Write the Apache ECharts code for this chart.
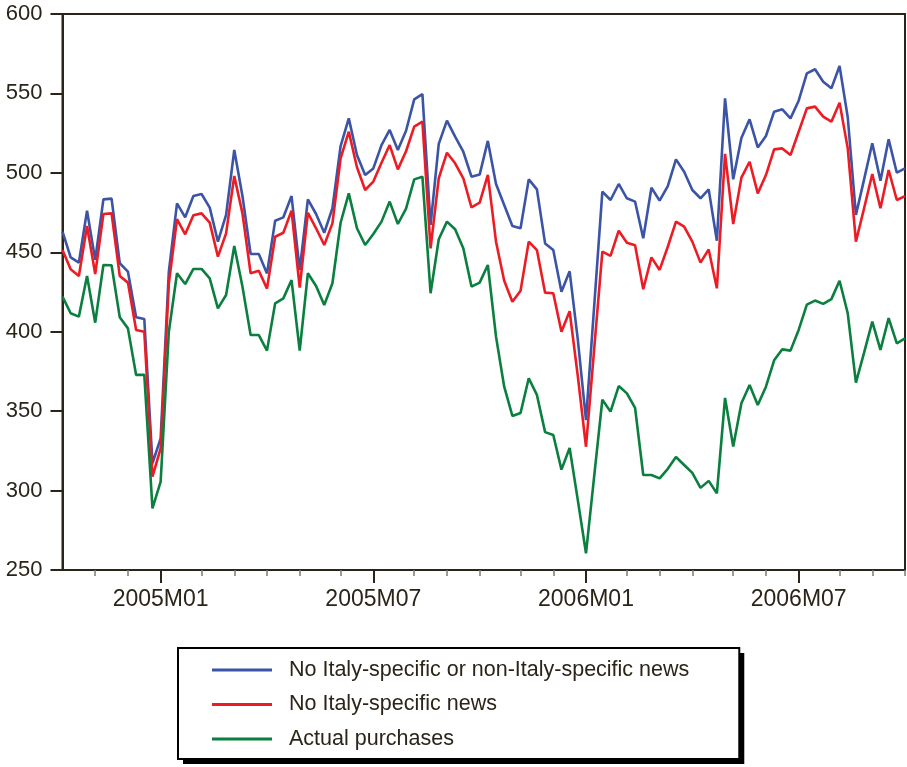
<!DOCTYPE html>
<html>
<head>
<meta charset="utf-8">
<title>Weekly purchases and counterfactual scenarios</title>
<script src="https://cdn.jsdelivr.net/npm/echarts@6/dist/echarts.min.js"></script>
<style>
  html, body { margin: 0; padding: 0; background: #ffffff; }
  #chart { width: 907px; height: 767px; }
</style>
</head>
<body>
<div id="chart"></div>
<script>
// Weekly observations, one per week (weeks starting on Sunday), Oct 2004 - Oct 2006
const firstWeekStart = '2004-10-10';
const weekCount = 104;

// Month labels shown under the long ticks
const tickLabels = ['2005M01', '2005M07', '2006M01', '2006M07'];

const seriesNames = [
  'No Italy-specific or non-Italy-specific news',
  'No Italy-specific news',
  'Actual purchases'
];

const noNews = [
  463.0, 446.8, 443.5, 476.2, 445.2, 483.3, 483.8, 443.1, 437.8, 409.1,
  408.0, 317.2, 332.9, 437.8, 480.8, 472.0, 485.4, 486.7, 478.1, 456.7,
  473.5, 514.4, 485.4, 448.9, 448.9, 436.7, 469.9, 472.0, 485.4, 438.8,
  483.3, 474.1, 462.3, 477.7, 516.9, 534.3, 511.2, 498.6, 502.8, 517.5,
  527.0, 514.4, 526.5, 546.3, 549.6, 467.2, 518.2, 532.9, 522.8, 513.3,
  497.6, 498.9, 520.1, 493.0, 479.8, 466.5, 465.1, 495.9, 489.6, 455.6,
  451.4, 425.2, 438.0, 395.0, 344.4, 416.0, 488.2, 482.9, 493.0, 484.0,
  481.9, 458.8, 490.6, 482.5, 491.7, 508.5, 500.7, 489.2, 484.0, 489.6,
  457.3, 546.9, 495.9, 522.0, 533.7, 516.0, 523.2, 538.5, 540.0, 534.3,
  545.4, 562.6, 565.2, 557.4, 553.2, 567.3, 535.0, 473.5, 495.9, 518.6,
  495.1, 521.1, 500.1, 502.8
];

const noItalyNews = [
  451.5, 439.3, 435.1, 466.6, 436.3, 474.1, 474.5, 435.1, 430.9, 401.1,
  400.0, 308.8, 326.6, 430.5, 470.9, 461.3, 473.3, 474.5, 468.7, 447.3,
  461.9, 498.0, 474.5, 436.8, 438.4, 427.1, 459.8, 462.3, 476.2, 427.7,
  474.9, 465.1, 454.6, 468.2, 509.1, 525.9, 503.5, 489.2, 494.5, 506.4,
  517.5, 502.2, 513.6, 529.1, 532.2, 452.5, 496.6, 512.7, 506.0, 496.6,
  478.3, 481.2, 498.7, 456.7, 432.1, 418.9, 425.8, 456.7, 451.4, 424.6,
  424.2, 400.0, 412.9, 372.0, 327.6, 389.0, 450.4, 447.7, 463.6, 456.0,
  454.4, 426.7, 446.8, 438.9, 453.5, 469.3, 466.1, 456.7, 443.5, 451.8,
  427.3, 511.9, 467.8, 497.0, 507.0, 487.1, 498.6, 514.8, 515.4, 511.2,
  525.9, 540.6, 541.7, 535.4, 532.2, 544.2, 515.4, 456.7, 477.7, 499.3,
  477.7, 501.8, 482.9, 485.4
];

const actualPurchases = [
  422.1, 411.6, 409.5, 435.1, 405.7, 442.0, 441.8, 409.1, 402.1, 372.8,
  372.8, 288.8, 305.6, 400.0, 436.8, 430.0, 439.5, 439.5, 433.6, 414.7,
  423.1, 454.0, 428.4, 397.9, 397.9, 388.1, 417.9, 421.0, 432.5, 388.1,
  436.8, 428.8, 416.8, 430.5, 468.6, 487.1, 465.1, 454.6, 461.5, 469.3,
  481.9, 467.8, 477.5, 495.9, 497.6, 424.2, 458.2, 469.3, 464.5, 452.5,
  428.4, 430.9, 442.0, 396.9, 365.4, 347.0, 348.8, 370.7, 360.2, 336.8,
  335.0, 313.2, 326.8, 294.0, 260.5, 309.0, 357.2, 349.7, 365.8, 361.2,
  352.1, 309.8, 309.8, 307.7, 313.7, 321.1, 316.1, 311.1, 301.7, 306.1,
  298.3, 358.3, 327.7, 355.0, 366.5, 353.9, 365.4, 382.0, 388.9, 388.1,
  401.1, 417.0, 419.6, 417.5, 420.5, 432.1, 411.6, 367.9, 386.8, 406.3,
  388.5, 408.6, 392.7, 395.8
];

// Calendar of week-start dates for the category axis
const weeks = [];
{
  const start = new Date(firstWeekStart + 'T00:00:00Z').getTime();
  for (let i = 0; i < weekCount; i++) {
    weeks.push(new Date(start + i * 7 * 86400000).toISOString().slice(0, 10));
  }
}
const monthCode = d => d.slice(0, 4) + 'M' + d.slice(5, 7);
// a month tick sits on the first week that falls in a new month
const isMonthStart = i => i > 0 && weeks[i].slice(0, 7) !== weeks[i - 1].slice(0, 7);
const isLabelled = i => isMonthStart(i) && tickLabels.indexOf(monthCode(weeks[i])) !== -1;

const ink = '#2b2419';
const font = 'Liberation Sans, Arial, Helvetica, sans-serif';

// shared legend layout; one copy casts the drop shadow, the other draws the framed box on top
const legendBase = {
  orient: 'vertical',
  left: 178, top: 648,
  padding: [11, 50, 9, 34],
  itemWidth: 60, itemHeight: 3, itemGap: 12.5,
  icon: 'rect',
  selectedMode: false,
  backgroundColor: '#ffffff',
  textStyle: { fontFamily: font, fontSize: 21.5, color: ink, padding: [0, 0, 0, 12] },
  data: seriesNames
};

const chart = echarts.init(document.getElementById('chart'), null, { renderer: 'canvas' });

chart.setOption({
  animation: false,
  backgroundColor: '#ffffff',
  grid: {
    left: 62.5, right: 2, top: 14, bottom: 197,
    show: true, borderColor: ink, borderWidth: 2,
    outerBoundsMode: 'none'
  },
  legend: [
    Object.assign({}, legendBase, {
      z: 4, borderWidth: 0,
      shadowColor: '#000000', shadowBlur: 0, shadowOffsetX: 5, shadowOffsetY: 5
    }),
    Object.assign({}, legendBase, {
      z: 6, borderColor: '#000000', borderWidth: 2
    })
  ],
  xAxis: [
    {
      type: 'category', position: 'bottom', boundaryGap: false, data: weeks,
      axisLine: { show: true, onZero: false, lineStyle: { color: ink, width: 2 } },
      axisTick: { show: true, length: 6, interval: i => isMonthStart(i), lineStyle: { color: '#7a7a7a', width: 1.5 } },
      axisLabel: { show: false },
      splitLine: { show: false }
    },
    {
      type: 'category', position: 'bottom', boundaryGap: false, data: weeks,
      axisLine: { show: false, onZero: false },
      axisTick: { show: true, length: 13, interval: i => isLabelled(i), lineStyle: { color: ink, width: 2 } },
      axisLabel: {
        show: true, interval: i => isLabelled(i), margin: 18,
        formatter: v => monthCode(v),
        fontFamily: font, fontSize: 23, color: ink
      },
      splitLine: { show: false }
    }
  ],
  yAxis: {
    type: 'value', min: 250, max: 600, interval: 50,
    axisLine: { show: true, lineStyle: { color: ink, width: 2 } },
    axisTick: { show: true, length: 12, lineStyle: { color: ink, width: 2 } },
    axisLabel: { margin: 20, fontFamily: font, fontSize: 22, color: ink },
    splitLine: { show: false }
  },
  series: [
    { name: seriesNames[0], type: 'line', data: noNews, xAxisIndex: 0, showSymbol: false,
      lineStyle: { color: '#3b54a5', width: 2.6 }, itemStyle: { color: '#3b54a5' }, z: 3 },
    { name: seriesNames[1], type: 'line', data: noItalyNews, xAxisIndex: 0, showSymbol: false,
      lineStyle: { color: '#ed1c24', width: 2.6 }, itemStyle: { color: '#ed1c24' }, z: 4 },
    { name: seriesNames[2], type: 'line', data: actualPurchases, xAxisIndex: 0, showSymbol: false,
      lineStyle: { color: '#0a7f3f', width: 2.6 }, itemStyle: { color: '#0a7f3f' }, z: 5 }
  ]
});
</script>
</body>
</html>
